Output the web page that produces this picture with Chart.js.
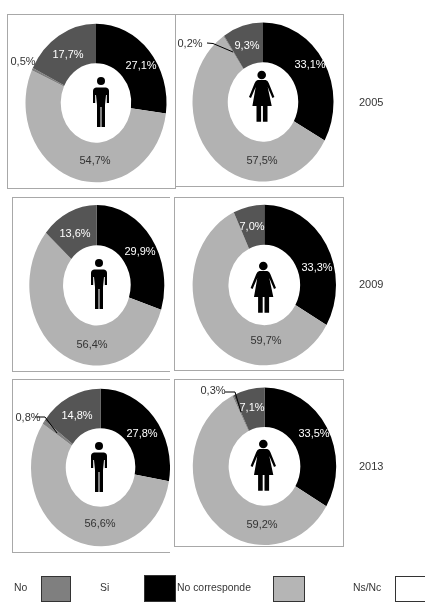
<!DOCTYPE html>
<html>
<head>
<meta charset="utf-8">
<script src="https://cdn.jsdelivr.net/npm/chart.js@4"></script>
<style>
  html, body { margin: 0; padding: 0; background: #fff; overflow: hidden; }
  body { width: 425px; height: 602px; position: relative; font-family: "Liberation Sans", Arial, sans-serif; color: #333; }
  canvas, .frame, .txt, .swatch { position: absolute; }
  .frame { box-sizing: border-box; border: 0 solid #a8a8a8; }
  .txt { font-size: 10.4px; line-height: 12px; white-space: nowrap; will-change: opacity; opacity: .99; }
  .year { font-size: 11px; }
  .swatch { box-sizing: border-box; border: 1px solid #333; }
</style>
</head>
<body>
<script>
// one entry per panel: hombres 2005, mujeres 2005, hombres 2009, mujeres 2009, hombres 2013, mujeres 2013
const categories = ['Si', 'No corresponde', 'Ns/Nc', 'No'];
const si = [27.1, 33.1, 29.9, 33.3, 27.8, 33.5];
const noCorresponde = [54.7, 57.5, 56.4, 59.7, 56.6, 59.2];
const nsNc = [0.5, 0.2, 0, 0, 0.8, 0.3];
const no = [17.7, 9.3, 13.6, 7.0, 14.8, 7.1];
const years = ['2005', '2009', '2013'];

const sliceColors = ['#000000', '#b2b2b2', '#808080', '#555555'];
const inkColors = ['#fff', '#333', '#333', '#fff'];

// layout, all in page pixels
const panels = [
  { box: [7, 14, 169, 175], sides: 'tlbr', c: [96, 103], r: [70.5, 79.3], icon: 'man', head: [101, 81],
    text: [[141, 66], [95, 161], [23, 62], [68, 55]] },
  { box: [175, 14, 169, 173], sides: 'tbr', c: [263, 102], r: [70.5, 79.5], icon: 'woman', head: [261.7, 75],
    text: [[310, 65], [262, 161], [190, 44], [247, 46]], leader: [[207, 43], [213, 43.5], [233, 52]] },
  { box: [12, 197, 158, 175], sides: 'tlb', c: [96.8, 285.3], r: [67.5, 80.3], icon: 'man', head: [99, 263],
    text: [[140, 252], [92, 345], null, [75, 234]] },
  { box: [174, 197, 170, 174], sides: 'tlbr', c: [264.3, 285], r: [71.7, 80.3], icon: 'woman', head: [263.3, 266],
    text: [[317, 268], [266, 341], null, [252, 227]] },
  { box: [12, 379, 158, 174], sides: 'tlb', c: [101, 467.5], r: [70, 79.3], icon: 'man', head: [99, 446],
    text: [[142, 434], [100, 524], [28, 418], [77, 416]], leader: [[35, 417], [45, 417], [57, 433]] },
  { box: [174, 379, 170, 168], sides: 'tlbr', c: [264.5, 466.3], r: [71.7, 78.8], icon: 'woman', head: [263.3, 444],
    text: [[314, 434], [262, 525], [213, 391], [252, 408]], leader: [[225, 392], [235, 392], [241, 412]] }
];

const yearY = [102, 284, 466];
const legendItems = [
  { text: [14, 'No'], box: [41, 576, 30, 26], color: '#7f7f7f' },
  { text: [100, 'Si'], box: [144, 575, 32, 27], color: '#000000' },
  { text: [177, 'No corresponde'], box: [273, 576, 32, 26], color: '#b5b5b5' },
  { text: [353, 'Ns/Nc'], box: [395, 576, 32, 26], color: '#ffffff' }
];

const manIcon = new Path2D('M-5,6.5 L5,6.5 Q8,7 8,10 L8,22 L5.8,22 L5.8,14 L5,14 L4,24 L4,46 L.5,46 L.5,26 L-.5,26 L-.5,46 L-4,46 L-4,24 L-5,14 L-5.8,14 L-5.8,22 L-8,22 L-8,10 Q-8,7 -5,6.5 Z');
const womanIcon = new Path2D('M-4,5 L4,5 Q6,5.5 7,8 L12.7,22 L10.7,23 L6,12 L10,31 L5.8,31 L5.8,46.7 L1.2,46.7 L1.2,31 L-.6,31 L-.6,46.7 L-5.2,46.7 L-5.2,31 L-9.3,31 L-6,12 L-10.7,23 L-12.7,22 L-7,8 Q-6,5.5 -4,5 Z');

// the reference donuts are stretched: squash the arcs only, not the texts
const stretchPlugin = {
  id: 'stretch',
  beforeDatasetsDraw(chart, args, opts) {
    const ctx = chart.ctx;
    const cy = opts.p.c[1] - opts.p.box[1];
    ctx.save();
    ctx.translate(0, cy);
    ctx.scale(1, opts.p.r[1] / opts.p.r[0]);
    ctx.translate(0, -cy);
  },
  afterDatasetsDraw(chart, args, opts) {
    const ctx = chart.ctx;
    const p = opts.p;
    ctx.restore();

    ctx.save();
    ctx.translate(-p.box[0], -p.box[1]);

    // icon in the hole
    ctx.fillStyle = '#000';
    ctx.save();
    ctx.translate(p.head[0], p.head[1]);
    ctx.beginPath();
    ctx.arc(0, 0, p.icon == 'man' ? 4 : 4.3, 0, Math.PI * 2);
    ctx.fill();
    ctx.fill(p.icon == 'man' ? manIcon : womanIcon);
    ctx.restore();

    if (p.leader) {
      ctx.strokeStyle = '#000';
      ctx.lineWidth = 1;
      ctx.beginPath();
      p.leader.forEach((pt, i) => i ? ctx.lineTo(pt[0], pt[1]) : ctx.moveTo(pt[0], pt[1]));
      ctx.stroke();
    }

    // value labels
    ctx.font = '11px "Liberation Sans"';
    ctx.textAlign = 'center';
    ctx.textBaseline = 'middle';
    chart.data.datasets[0].data.forEach((v, i) => {
      if (!v || !p.text[i]) return;
      ctx.fillStyle = inkColors[i];
      ctx.fillText(v.toFixed(1).replace('.', ',') + '%', p.text[i][0], p.text[i][1]);
    });
    ctx.restore();
  }
};

function addDiv(cls, x, y, w, h) {
  const d = document.createElement('div');
  d.className = cls;
  d.style.left = x + 'px';
  d.style.top = y + 'px';
  if (w) d.style.width = w + 'px';
  if (h) d.style.height = h + 'px';
  document.body.appendChild(d);
  return d;
}

panels.forEach((p, n) => {
  const [bx, by, bw, bh] = p.box;
  const canvas = document.createElement('canvas');
  canvas.width = bw;
  canvas.height = bh;
  canvas.style.left = bx + 'px';
  canvas.style.top = by + 'px';
  document.body.appendChild(canvas);

  const rx = p.r[0];
  new Chart(canvas, {
    type: 'doughnut',
    data: {
      labels: categories,
      datasets: [{
        data: [si[n], noCorresponde[n], nsNc[n], no[n]],
        backgroundColor: sliceColors,
        borderWidth: 0,
        clip: false
      }]
    },
    options: {
      responsive: false,
      animation: false,
      cutout: '50%',
      layout: {
        padding: {
          left: p.c[0] - rx - bx,
          right: bx + bw - p.c[0] - rx,
          top: p.c[1] - rx - by,
          bottom: by + bh - p.c[1] - rx
        }
      },
      plugins: { legend: { display: false }, tooltip: { enabled: false }, stretch: { p: p } }
    },
    plugins: [stretchPlugin]
  });

  const f = addDiv('frame', bx, by, bw, bh);
  f.style.borderWidth = (p.sides.includes('t') ? 1.5 : 0) + 'px ' + (p.sides.includes('r') ? 1.5 : 0) + 'px ' +
    (p.sides.includes('b') ? 1.5 : 0) + 'px ' + (p.sides.includes('l') ? 1.5 : 0) + 'px';
});

years.forEach((y, i) => {
  const t = addDiv('txt year', 359, yearY[i] - 6);
  t.textContent = y;
});

legendItems.forEach(item => {
  const t = addDiv('txt', item.text[0], 582);
  t.textContent = item.text[1];
  const s = addDiv('swatch', item.box[0], item.box[1], item.box[2], item.box[3]);
  s.style.background = item.color;
});
</script>
</body>
</html>
